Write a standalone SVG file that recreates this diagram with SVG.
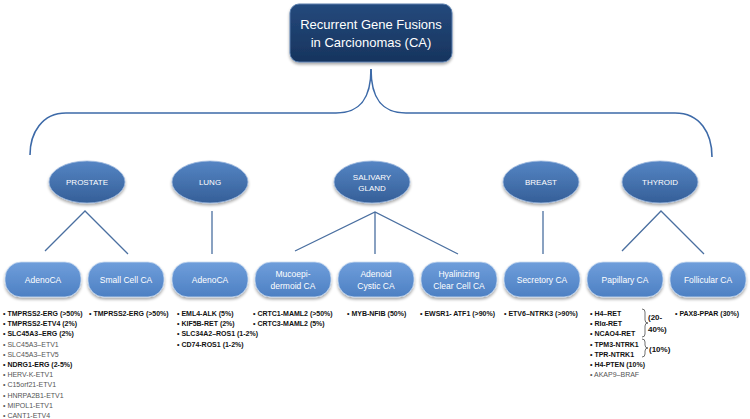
<svg xmlns="http://www.w3.org/2000/svg" width="750" height="419" viewBox="0 0 750 419">
<defs>
<linearGradient id="gTop" x1="0" y1="0" x2="0" y2="1"><stop offset="0" stop-color="#24497c"/><stop offset="1" stop-color="#17345e"/></linearGradient>
<linearGradient id="gEll" x1="0" y1="0" x2="0" y2="1"><stop offset="0" stop-color="#5585c4"/><stop offset="1" stop-color="#355f98"/></linearGradient>
<linearGradient id="gBox" x1="0" y1="0" x2="0" y2="1"><stop offset="0" stop-color="#6f9edb"/><stop offset="1" stop-color="#4d80c3"/></linearGradient>
<filter id="sh" x="-20%" y="-20%" width="140%" height="150%"><feGaussianBlur in="SourceAlpha" stdDeviation="1.5"/><feOffset dy="2" result="b"/><feComponentTransfer><feFuncA type="linear" slope="0.35"/></feComponentTransfer><feMerge><feMergeNode/><feMergeNode in="SourceGraphic"/></feMerge></filter>
<style>
.top{fill:url(#gTop);stroke:#5a7fae;stroke-width:1;filter:url(#sh)}
.ell{fill:url(#gEll);stroke:#9cb8de;stroke-width:0.8;filter:url(#sh)}
.box{fill:url(#gBox);stroke:#c9daf0;stroke-width:0.8;filter:url(#sh)}
.tt{font-family:"Liberation Sans",Arial,sans-serif;fill:#fff;text-anchor:middle}
.t1{font-size:13px}
.t2{font-size:8px}
.t3{font-size:8.5px}
.conn{fill:none;stroke:#3d6aa8;stroke-width:1.6}
.ln{fill:none;stroke:#4a6fa0;stroke-width:1.3}
.li{font-family:"Liberation Sans",Arial,sans-serif;font-size:7px;font-weight:bold;fill:#111}
.lg{font-family:"Liberation Sans",Arial,sans-serif;font-size:7px;fill:#555}
.br{fill:none;stroke:#333;stroke-width:0.7}
.pc{font-family:"Liberation Sans",Arial,sans-serif;font-size:8px;font-weight:bold;fill:#111}
</style>
</defs>
<rect width="750" height="419" fill="#fff"/>

<g id="connectors">
<path class="conn" d="M371 69 C371 96 362 113 336 113 L66 113 C42 113 30 133 30 155"/>
<path class="conn" d="M371 69 C371 96 380 113 406 113 L675 113 C700 113 712 133 712 157"/>
<path class="ln" d="M45 251 L85 211 L128 254"/>
<path class="ln" d="M212 211 L212 254"/>
<path class="ln" d="M295 251 L375 212 L458 254 M375 212 L375 254"/>
<path class="ln" d="M543 211 L543 254"/>
<path class="ln" d="M622 251 L661 211 L704 254"/>
</g>

<g id="root">
<rect class="top" x="290" y="4" width="162" height="58" rx="9"/>
<text class="tt t1" x="371" y="29">Recurrent Gene Fusions</text>
<text class="tt t1" x="371" y="47">in Carcionomas (CA)</text>
</g>

<g id="prostate"><ellipse class="ell" cx="87" cy="182" rx="38" ry="21"/><text class="tt t2" x="87" y="185">PROSTATE</text></g>
<g id="lung"><ellipse class="ell" cx="210" cy="182" rx="38" ry="21"/><text class="tt t2" x="210" y="185">LUNG</text></g>
<g id="salivary"><ellipse class="ell" cx="372" cy="182" rx="38" ry="21"/><text class="tt t2" x="372" y="180">SALIVARY</text><text class="tt t2" x="372" y="191">GLAND</text></g>
<g id="breast"><ellipse class="ell" cx="541" cy="182" rx="38" ry="21"/><text class="tt t2" x="541" y="185">BREAST</text></g>
<g id="thyroid"><ellipse class="ell" cx="660" cy="182" rx="38" ry="21"/><text class="tt t2" x="660" y="185">THYROID</text></g>

<g id="prostate-adeno"><rect class="box" x="5" y="262" width="76" height="35" rx="16"/><text class="tt t3" x="43" y="283">AdenoCA</text></g>
<g id="prostate-small"><rect class="box" x="88" y="262" width="76" height="35" rx="16"/><text class="tt t3" x="126" y="283">Small Cell CA</text></g>
<g id="lung-adeno"><rect class="box" x="172" y="262" width="76" height="35" rx="16"/><text class="tt t3" x="210" y="283">AdenoCA</text></g>
<g id="mucoepi"><rect class="box" x="255" y="262" width="76" height="35" rx="16"/><text class="tt t3" x="293" y="277">Mucoepi-</text><text class="tt t3" x="293" y="289">dermoid CA</text></g>
<g id="adenoid"><rect class="box" x="338" y="262" width="76" height="35" rx="16"/><text class="tt t3" x="376" y="277">Adenoid</text><text class="tt t3" x="376" y="289">Cystic CA</text></g>
<g id="hyalinizing"><rect class="box" x="421" y="262" width="76" height="35" rx="16"/><text class="tt t3" x="459" y="277">Hyalinizing</text><text class="tt t3" x="459" y="289">Clear Cell CA</text></g>
<g id="secretory"><rect class="box" x="504" y="262" width="76" height="35" rx="16"/><text class="tt t3" x="542" y="283">Secretory CA</text></g>
<g id="papillary"><rect class="box" x="587" y="262" width="76" height="35" rx="16"/><text class="tt t3" x="625" y="283">Papillary CA</text></g>
<g id="follicular"><rect class="box" x="670" y="262" width="76" height="35" rx="16"/><text class="tt t3" x="708" y="283">Follicular CA</text></g>

<g id="list-prostate-adeno">
<text class="li" x="3" y="316">• TMPRSS2-ERG (&gt;50%)</text>
<text class="li" x="3" y="326.2">• TMPRSS2-ETV4  (2%)</text>
<text class="li" x="3" y="336.4">• SLC45A3–ERG  (2%)</text>
<text class="lg" x="3" y="346.6">• SLC45A3–ETV1</text>
<text class="lg" x="3" y="356.8">• SLC45A3–ETV5</text>
<text class="li" x="3" y="367">• NDRG1-ERG (2-5%)</text>
<text class="lg" x="3" y="377.2">• HERV-K-ETV1</text>
<text class="lg" x="3" y="387.4">• C15orf21-ETV1</text>
<text class="lg" x="3" y="397.6">• HNRPA2B1-ETV1</text>
<text class="lg" x="3" y="407.8">• MIPOL1-ETV1</text>
<text class="lg" x="3" y="418">• CANT1-ETV4</text>
</g>
<g id="list-small"><text class="li" x="89" y="316">• TMPRSS2-ERG (&gt;50%)</text></g>
<g id="list-lung">
<text class="li" x="177" y="316">• EML4-ALK (5%)</text>
<text class="li" x="177" y="326.2">• KIF5B-RET  (2%)</text>
<text class="li" x="177" y="336.4">• SLC34A2–ROS1 (1-2%)</text>
<text class="li" x="177" y="346.6">• CD74-ROS1 (1-2%)</text>
</g>
<g id="list-mucoepi">
<text class="li" x="253" y="316">• CRTC1-MAML2 (&gt;50%)</text>
<text class="li" x="253" y="326.2">• CRTC3-MAML2 (5%)</text>
</g>
<g id="list-adenoid"><text class="li" x="347" y="316">• MYB-NFIB (50%)</text></g>
<g id="list-hyal"><text class="li" x="420" y="316">• EWSR1- ATF1 (&gt;90%)</text></g>
<g id="list-secretory"><text class="li" x="504" y="316">• ETV6–NTRK3 (&gt;90%)</text></g>
<g id="list-papillary">
<text class="li" x="590" y="316">• H4–RET</text>
<text class="li" x="590" y="326.2">• RIα-RET</text>
<text class="li" x="590" y="336.4">• NCAO4-RET</text>
<text class="li" x="590" y="346.6">• TPM3-NTRK1</text>
<text class="li" x="590" y="356.8">• TPR-NTRK1</text>
<text class="li" x="590" y="367">• H4-PTEN (10%)</text>
<text class="lg" x="590" y="377.2">• AKAP9–BRAF</text>
<path class="br" d="M642 309 Q645 309 645 312 L645 320 Q645 323 648 323 Q645 323 645 326 L645 334 Q645 337 642 337"/>
<path class="br" d="M642 339 Q645 339 645 342 L645 345 Q645 348 648 348 Q645 348 645 351 L645 354 Q645 357 642 357"/>
<text class="pc" x="648" y="320">(20-</text>
<text class="pc" x="648" y="332">40%)</text>
<text class="pc" x="649" y="352">(10%)</text>
</g>
<g id="list-follicular"><text class="li" x="675" y="316">• PAX8-PPAR (30%)</text></g>
</svg>
